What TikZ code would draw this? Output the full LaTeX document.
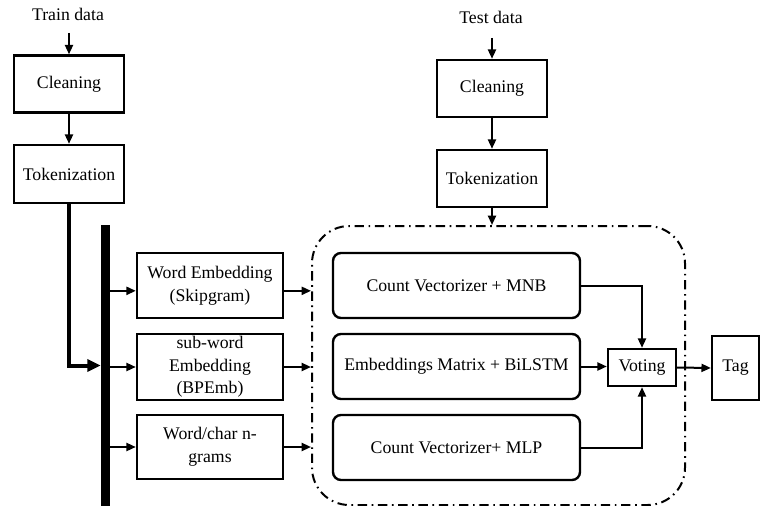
\documentclass[tikz,border=0pt]{standalone}
\usepackage{fontspec}
\setmainfont{Liberation Serif}
\usetikzlibrary{arrows.meta,calc}
\begin{document}
\begin{tikzpicture}[x=0.75pt,y=-0.75pt,
  every node/.style={font=\fontsize{13.3}{17}\selectfont, inner sep=0pt},
  sqbox/.style={draw, line width=1.8pt, align=center},
  rbox/.style={draw, line width=1.8pt, rounded corners=6pt, align=center},
  arr/.style={line width=1.5pt, -{Triangle[length=7pt,width=6pt]}},
  thickarr/.style={line width=3pt, -{Triangle[length=10pt,width=9pt]}},
  dashdot/.style={draw, line width=1.5pt, dash pattern=on 7pt off 3.5pt on 1.2pt off 3.5pt, rounded corners=28pt}
]
\useasboundingbox (0,0) rectangle (760,506);

% Train branch
\node (traintxt) at (68,14) {Train data};
\node[sqbox, minimum width=82.5pt, minimum height=42.75pt] (clean1) at (69,84) {Cleaning};
\node[sqbox, minimum width=82.5pt, minimum height=43.5pt] (tok1) at (69,174) {Tokenization};
\coordinate (tin) at (69,33);

% Test branch
\node (testtxt) at (491,17) {Test data};
\node[sqbox, minimum width=82.5pt, minimum height=42.75pt] (clean2) at (492,88.5) {Cleaning};
\node[sqbox, minimum width=82.5pt, minimum height=42.75pt] (tok2) at (492,178.5) {Tokenization};
\coordinate (sin) at (492,38);

% Bar
\node[fill=black, minimum width=6.75pt, minimum height=210.75pt] (bar) at (105.5,365.5) {};

% Feature boxes
\node[sqbox, minimum width=109.5pt, minimum height=48.75pt] (we) at (210,285.5) {Word Embedding\\(Skipgram)};
\node[sqbox, minimum width=109.5pt, minimum height=49.5pt] (sw) at (210,367) {sub-word\\Embedding\\(BPEmb)};
\node[sqbox, minimum width=109.5pt, minimum height=48pt] (wc) at (210,447) {Word/char n-\\grams};

% Container
\node[dashdot, minimum width=279.75pt, minimum height=209.25pt] (box) at (498.5,365.5) {};

% Models
\node[rbox, minimum width=185.25pt, minimum height=48.75pt] (mnb) at (456.5,285.5) {Count Vectorizer + MNB};
\node[rbox, minimum width=185.25pt, minimum height=48.75pt] (emb) at (456.5,366.5) {Embeddings Matrix + BiLSTM};
\node[rbox, minimum width=185.25pt, minimum height=48.75pt] (mlp) at (456.5,447.5) {Count Vectorizer+ MLP};

\node[sqbox, minimum width=51pt, minimum height=27.75pt] (vote) at (642,367.5) {Voting};
\node[sqbox, minimum width=35.25pt, minimum height=48pt] (tag) at (735.5,368) {Tag};

% Connectors
\draw[arr] (tin) -- (clean1.north);
\draw[arr] (clean1.south) -- (tok1.north);
\draw[thickarr] (tok1.south) |- (bar.west);

\draw[arr] (sin) -- (clean2.north);
\draw[arr] (clean2.south) -- (tok2.north);
\draw[arr] (tok2.south) -- (tok2.south |- box.north);

\draw[arr] ([yshift=-4pt]bar.east |- we.west) -- ([yshift=-4pt]we.west);
\draw[arr] (bar.east |- sw.west) -- (sw.west);
\draw[arr] (bar.east |- wc.west) -- (wc.west);

\draw[arr] ([yshift=-4pt]we.east) -- ([yshift=-4pt]box.west |- we.east);
\draw[arr] (sw.east) -- (box.west |- sw.east);
\draw[arr] (wc.east) -- (box.west |- wc.east);

\draw[arr] (mnb.east) -| (vote.north);
\draw[arr] (emb.east) -- (emb.east -| vote.west);
\draw[arr] (mlp.east) -| (vote.south);
\draw[arr] (vote.east) -- (tag.west);
\end{tikzpicture}
\end{document}
